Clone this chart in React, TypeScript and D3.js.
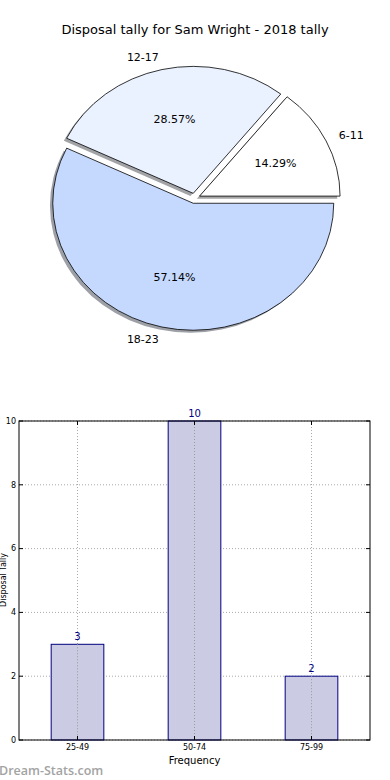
import * as React from 'react';
import * as d3 from 'd3';

const title = 'Disposal tally for Sam Wright - 2018 tally';
const pieLabels = ['6-11', '12-17', '18-23'];
const pieValues = [1, 2, 4];
const pieColors = ['#ffffff', '#eaf1ff', '#c5d9ff'];

const barCats = ['25-49', '50-74', '75-99'];
const barValues = [3, 10, 2];
const yTicks = [0, 2, 4, 6, 8, 10];

const W = 390;
const H = 780;

// pie geometry (elliptical like the source)
const cx = 194.5;
const cy = 198.3;
const rx = 140.5;
const ry = 127;
const explode = 0.04;

// bar axes box
const bx0 = 19;
const bx1 = 370;
const by0 = 421;
const by1 = 740;

const shade = (c: string) => {
  const rgb = d3.rgb(c);
  return d3.rgb(rgb.r * 0.3, rgb.g * 0.3, rgb.b * 0.3).toString();
};

const App: React.FC = () => {
  // matplotlib goes counter-clockwise from 3 o'clock
  const pie = d3.pie<number>().sort(null).startAngle(Math.PI / 2).endAngle(Math.PI / 2 - 2 * Math.PI);
  const slices = pie(pieValues);
  const arc = d3.arc<d3.PieArcDatum<number>>().innerRadius(0).outerRadius(1);
  const total = d3.sum(pieValues);

  const off = (s: d3.PieArcDatum<number>) => {
    const a = (s.startAngle + s.endAngle) / 2;
    return [Math.sin(a), -Math.cos(a)];
  };

  const x = d3.scaleLinear().domain([-0.5, barCats.length - 0.5]).range([bx0, bx1]);
  const y = d3.scaleLinear().domain([0, 10]).range([by1, by0]);
  const barW = 0.45;

  const font = 'DejaVu Sans, sans-serif';

  return (
    <svg width={W} height={H} style={{ position: 'absolute', left: 0, top: 0, background: '#fff' }}>
      <rect width={W} height={H} fill="#fff" />
      <text x={195} y={34} textAnchor="middle" fontFamily={font} fontSize={13}>{title}</text>

      {/* shadows */}
      {slices.map((s, i) => {
        const [ux, uy] = off(s);
        const tx = cx + explode * rx * ux - 0.02 * rx;
        const ty = cy + explode * ry * uy + 0.02 * ry;
        return (
          <path key={'sh' + i} d={arc(s) || ''} fill={shade(pieColors[i])} fillOpacity={0.5}
            transform={`translate(${tx},${ty}) scale(${rx},${ry})`} />
        );
      })}
      {slices.map((s, i) => {
        const [ux, uy] = off(s);
        const tx = cx + explode * rx * ux;
        const ty = cy + explode * ry * uy;
        return (
          <path key={'sl' + i} d={arc(s) || ''} fill={pieColors[i]} stroke="#000" strokeWidth={0.8}
            vectorEffect="non-scaling-stroke" strokeLinejoin="round"
            transform={`translate(${tx},${ty}) scale(${rx},${ry})`} />
        );
      })}
      {slices.map((s, i) => {
        const [ux, uy] = off(s);
        const ox = cx + explode * rx * ux;
        const oy = cy + explode * ry * uy;
        const lx = ox + 1.1 * rx * ux;
        const ly = oy + 1.1 * ry * uy;
        const px = ox + 0.6 * rx * ux;
        const py = oy + 0.6 * ry * uy;
        return (
          <g key={'lb' + i} fontFamily={font} fontSize={11}>
            <text x={lx} y={ly} dy="0.35em" textAnchor={ux > 0 ? 'start' : 'end'}>{pieLabels[i]}</text>
            <text x={px} y={py} dy="0.35em" textAnchor="middle">
              {((pieValues[i] / total) * 100).toFixed(2) + '%'}
            </text>
          </g>
        );
      })}

      {/* bar chart */}
      <g fontFamily={font}>
        {yTicks.map(t => (
          <g key={'gy' + t}>
            <line x1={bx0} x2={bx1} y1={y(t)} y2={y(t)} stroke="#aaa" strokeWidth={1} strokeDasharray="1,2" />
            <line x1={bx0} x2={bx0 + 4} y1={y(t)} y2={y(t)} stroke="#000" />
            <line x1={bx1 - 4} x2={bx1} y1={y(t)} y2={y(t)} stroke="#000" />
            <text x={bx0 - 3} y={y(t)} dy="0.35em" textAnchor="end" fontSize={8}>{t}</text>
          </g>
        ))}
        {barCats.map((c, i) => (
          <g key={'gx' + c}>
            <line x1={x(i)} x2={x(i)} y1={by0} y2={by1} stroke="#aaa" strokeWidth={1} strokeDasharray="1,2" />
          </g>
        ))}
        {barCats.map((c, i) => (
          <g key={'b' + c}>
            <rect x={x(i - barW / 2)} y={y(barValues[i])} width={x(barW) - x(0)} height={by1 - y(barValues[i])}
              fill="#cbcbe3" stroke="#000080" strokeWidth={1} />
            <line x1={x(i)} x2={x(i)} y1={y(barValues[i])} y2={by1} stroke="#999" strokeWidth={1} strokeDasharray="1,2" />
            <text x={x(i)} y={y(barValues[i]) - 4} textAnchor="middle" fontSize={10} fill="#000080">{barValues[i]}</text>
            <line x1={x(i)} x2={x(i)} y1={by1} y2={by1 - 4} stroke="#000" />
            <line x1={x(i)} x2={x(i)} y1={by0} y2={by0 + 4} stroke="#000" />
            <text x={x(i)} y={by1 + 10} textAnchor="middle" fontSize={8}>{c}</text>
          </g>
        ))}
        <rect x={bx0} y={by0} width={bx1 - bx0} height={by1 - by0} fill="none" stroke="#000" strokeWidth={1} />
        <text x={(bx0 + bx1) / 2} y={764} textAnchor="middle" fontSize={10}>Frequency</text>
        <text transform={`translate(6,580) rotate(-90)`} textAnchor="middle" fontSize={8}>Disposal Tally</text>
      </g>

      <text x={-1} y={775} fontFamily="Open Sans, sans-serif" fontWeight={600} fontSize={12.5} fill="#a3a3a3">Dream-Stats.com</text>
    </svg>
  );
};

export default App;
